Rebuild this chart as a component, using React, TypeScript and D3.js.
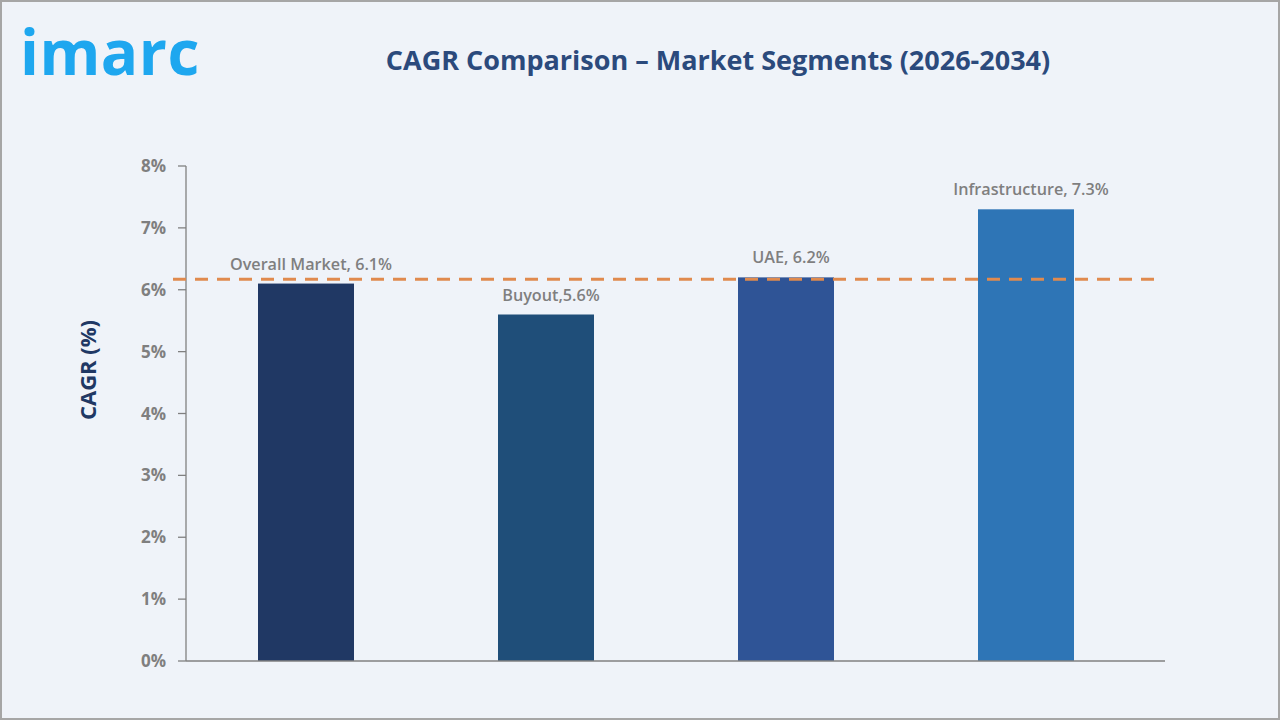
import React from "react";
import * as d3 from "d3";

const categories = ["Overall Market", "Buyout", "UAE", "Infrastructure"];
const values = [6.1, 5.6, 6.2, 7.3];
const labels = ["Overall Market, 6.1%", "Buyout,5.6%", "UAE, 6.2%", "Infrastructure, 7.3%"];
const barColors = ["#203864", "#1f4e79", "#2f5496", "#2e75b6"];
const yTicks = [0, 1, 2, 3, 4, 5, 6, 7, 8];
const referenceLine = 6.17;

const W = 1280;
const H = 720;
const font = "'Open Sans', 'Liberation Sans', sans-serif";

export default function App() {
  const x = d3
    .scaleBand<string>()
    .domain(categories)
    .range([186, 1146])
    .paddingInner(0.6)
    .paddingOuter(0.3);
  const y = d3.scaleLinear().domain([0, 8]).range([661, 166]);
  const axisLeft = 186;
  const axisRight = 1165;

  return (
    <svg
      width={W}
      height={H}
      style={{ position: "fixed", left: 0, top: 0, display: "block" }}
      fontFamily={font}
    >
      <rect x={0} y={0} width={W} height={H} fill="#eff3f9" />
      <rect x={1} y={1} width={W - 2} height={H - 2} fill="none" stroke="#a6a6a6" strokeWidth={2} />

      {/* logo */}
      <text x={20} y={75} fontSize={62} fontWeight={700} fill="#1ea7ef" letterSpacing={0.5} fontFamily="'Open Sans', sans-serif">
        imarc
      </text>

      {/* title */}
      <text x={718} y={70} textAnchor="middle" fontSize={27} fontWeight={700} fill="#2b4a7c">
        CAGR Comparison – Market Segments (2026-2034)
      </text>

      {/* y axis title */}
      <text
        transform="translate(96, 370) rotate(-90)"
        textAnchor="middle"
        fontSize={22}
        fontWeight={700}
        fill="#203864"
      >
        CAGR (%)
      </text>

      {/* y axis */}
      <line x1={axisLeft} x2={axisLeft} y1={y(8)} y2={y(0)} stroke="#808080" strokeWidth={1.3} />
      {yTicks.map((t) => (
        <g key={t}>
          <line x1={178} x2={axisLeft} y1={y(t)} y2={y(t)} stroke="#808080" strokeWidth={1.3} />
          <text x={166} y={y(t) + 6} textAnchor="end" fontSize={17} fontWeight={700} fill="#7f7f7f">
            {t}%
          </text>
        </g>
      ))}

      {/* bars */}
      {categories.map((c, i) => (
        <rect key={c} x={x(c)} y={y(values[i])} width={x.bandwidth()} height={y(0) - y(values[i])} fill={barColors[i]} />
      ))}

      {/* x axis */}
      <line x1={axisLeft} x2={axisRight} y1={y(0)} y2={y(0)} stroke="#808080" strokeWidth={1.3} />

      {/* reference line */}
      <line
        x1={173}
        x2={1162}
        y1={y(referenceLine)}
        y2={y(referenceLine)}
        stroke="#e08a4e"
        strokeWidth={3}
        strokeDasharray="13 9"
      />

      {/* value labels */}
      {categories.map((c, i) => (
        <text
          key={c}
          x={(x(c) ?? 0) + x.bandwidth() / 2 + 5}
          y={y(values[i]) - 14}
          textAnchor="middle"
          fontSize={16.2}
          fontWeight={600}
          fill="#7f7f7f"
        >
          {labels[i]}
        </text>
      ))}
    </svg>
  );
}
